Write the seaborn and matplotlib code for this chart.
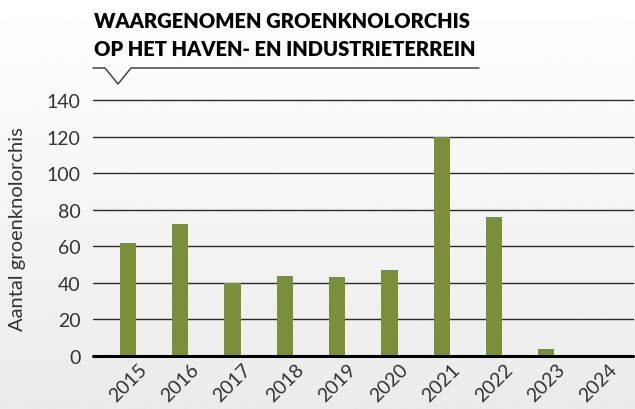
import numpy as np
import pandas as pd
import matplotlib
matplotlib.use("Agg")
import matplotlib.pyplot as plt
import seaborn as sns
from matplotlib.lines import Line2D

# data
years = ["2015", "2016", "2017", "2018", "2019", "2020", "2021", "2022", "2023", "2024"]
counts = [62, 72, 40, 44, 43, 47, 120, 76, 4, 0]
y_ticks = [0, 20, 40, 60, 80, 100, 120, 140]

title_lines = ["WAARGENOMEN GROENKNOLORCHIS", "OP HET HAVEN- EN INDUSTRIETERREIN"]
y_label = "Aantal groenknolorchis"

BAR_COLOR = "#7b8f3a"

sns.set_style("white")
plt.rcParams["font.family"] = ["Lato", "DejaVu Sans"]

df = pd.DataFrame({"year": years, "count": counts})

W, H = 635, 410
fig = plt.figure(figsize=(W / 100, H / 100), dpi=100)

# soft grey gradient behind everything
bg = fig.add_axes([0, 0, 1, 1], zorder=-10)
grad = np.linspace(1.0, 0.92, 256).reshape(-1, 1)
bg.imshow(grad, cmap="gray", vmin=0, vmax=1, aspect="auto", extent=[0, 1, 0, 1])
bg.set_axis_off()


def fx(px):
    return px / W


def fy(py):
    return 1 - py / H


ax = fig.add_axes([fx(93), fy(357), fx(633) - fx(93), fy(101) - fy(357)])
ax.set_facecolor("none")

sns.barplot(data=df, x="year", y="count", color=BAR_COLOR, width=0.31,
            saturation=1, linewidth=0, edgecolor="none", ax=ax, zorder=3)

ax.set_ylim(0, 140)
ax.set_xlim(-0.67, 9.66)
ax.set_yticks(y_ticks)
for v in y_ticks[1:]:
    ax.axhline(v, color="#2b2b2b", lw=1.0, zorder=1, clip_on=False)
ax.axhline(0, color="black", lw=2.2, zorder=4, clip_on=False)

sns.despine(ax=ax, left=True, bottom=True)
ax.tick_params(axis="y", length=0, pad=9, labelsize=14, labelcolor="#333333")
ax.tick_params(axis="x", length=0, pad=3, labelsize=14, labelcolor="#333333")
for lab in ax.get_xticklabels():
    lab.set_rotation(45)
    lab.set_ha("center")
ax.set_xlabel("")
ax.set_ylabel(y_label, fontsize=14.5, color="#333333")
ax.yaxis.set_label_coords(-0.125, 0.5)

# title block with a notched underline
for i, line in enumerate(title_lines):
    fig.text(fx(94), fy(22 + 28 * i), line, fontsize=14.5, fontweight="heavy",
             va="center", ha="left", color="black")
fig.add_artist(Line2D([fx(93), fx(105), fx(118), fx(131), fx(479)],
                      [fy(69), fy(69), fy(85), fy(69), fy(69)],
                      color="#444444", lw=1.1, transform=fig.transFigure))

fig.savefig("out.png", dpi=100)
